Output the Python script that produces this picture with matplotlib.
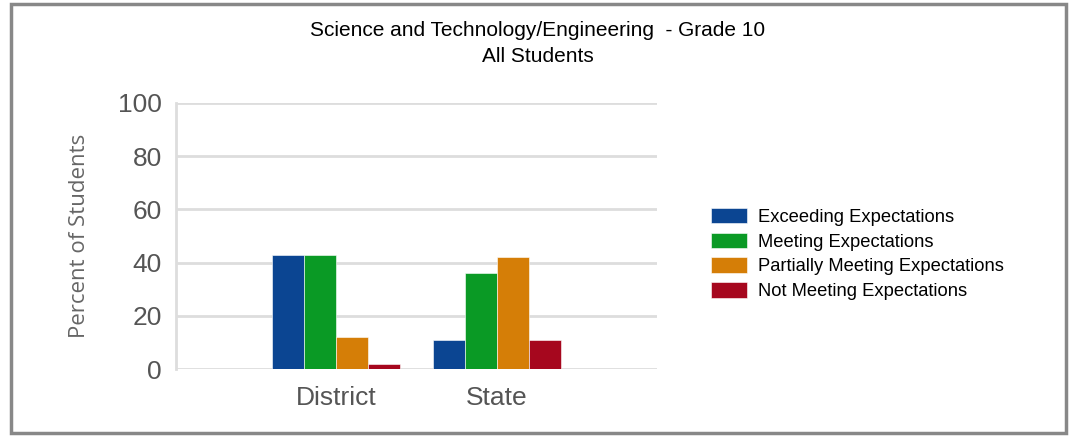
import numpy as np
import matplotlib.pyplot as plt
from matplotlib.patches import Rectangle

# data
groups = ['District', 'State']
levels = ['Exceeding Expectations', 'Meeting Expectations',
          'Partially Meeting Expectations', 'Not Meeting Expectations']
exceeding = [43, 11]
meeting = [43, 36]
partially = [12, 42]
not_meeting = [2, 11]
colors = ['#0B4592', '#0A9A25', '#D57E07', '#A6071E']

plt.rcParams['font.family'] = ['Liberation Sans', 'DejaVu Sans']

fig = plt.figure(figsize=(10.7, 4.36), dpi=100)

# grey frame round the whole picture
fig.patches.append(Rectangle((10.5 / 1070, 3.5 / 436), 1055 / 1070, 428 / 436,
                             transform=fig.transFigure, fill=False,
                             edgecolor='#888888', linewidth=2.5))

ax = fig.add_axes([176 / 1070, 67 / 436, 481 / 1070, 266 / 436])

x = np.arange(len(groups))
w = 0.2
series = [exceeding, meeting, partially, not_meeting]
for i, (vals, lab, c) in enumerate(zip(series, levels, colors)):
    ax.bar(x + (i - 1.5) * w, vals, w, color=c, label=lab,
           edgecolor='#ffffff', linewidth=0.4, zorder=3)

ax.set_xlim(-1, 2)
ax.set_ylim(0, 100)
ax.set_yticks(range(0, 101, 20))
ax.set_xticks(x)
ax.set_xticklabels(groups)
ax.grid(axis='y', color='#dddddd', linewidth=2, zorder=0)
for s in ['top', 'right', 'bottom']:
    ax.spines[s].set_visible(False)
ax.spines['left'].set_color('#dddddd')
ax.spines['left'].set_linewidth(2)
ax.tick_params(length=0, labelsize=19, colors='#555555')
ax.tick_params(axis='y', pad=10)
ax.tick_params(axis='x', pad=12)
ax.set_ylabel('Percent of Students', fontsize=16, color='#666666',
              family=['Open Sans', 'DejaVu Sans'], labelpad=20)

fig.text(538 / 1070, 1 - 31 / 436, 'Science and Technology/Engineering  - Grade 10',
         ha='center', va='center', fontsize=15)
fig.text(538 / 1070, 1 - 56 / 436, 'All Students',
         ha='center', va='center', fontsize=15)

fig.legend(loc='center left', bbox_to_anchor=(694 / 1070, 1 - 254 / 436),
           frameon=False, fontsize=13.2, handlelength=2.0, handleheight=0.9,
           labelspacing=0.38, handletextpad=0.6)

fig.savefig('out.png', dpi=100)
